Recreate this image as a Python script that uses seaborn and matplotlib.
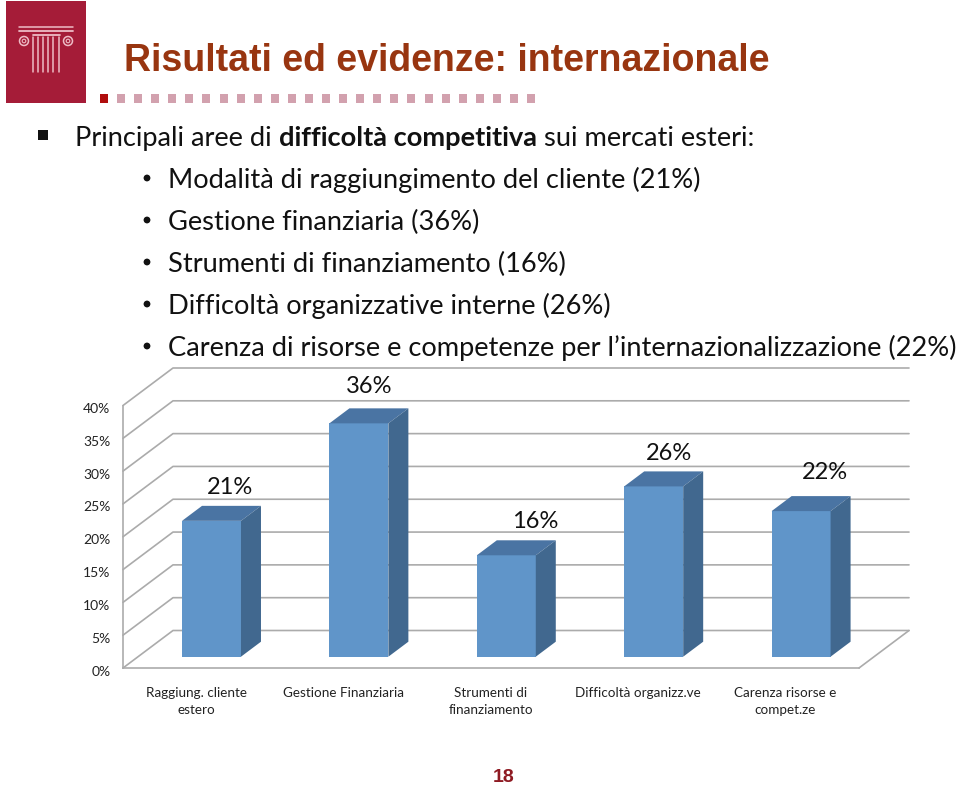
import matplotlib
matplotlib.use("Agg")
import matplotlib.pyplot as plt
from matplotlib.patches import Polygon, Rectangle, Circle
from matplotlib.transforms import ScaledTranslation
import seaborn as sns

sns.set_style("white")
plt.rcParams["font.family"] = ["Lato", "DejaVu Sans"]

categories = ["Raggiung. cliente\nestero", "Gestione Finanziaria", "Strumenti di\nfinanziamento",
              "Difficoltà organizz.ve", "Carenza risorse e\ncompet.ze"]
values = [20.9, 35.9, 15.6, 26.2, 22.4]
value_labels = ["21%", "36%", "16%", "26%", "22%"]
y_ticks = [0, 5, 10, 15, 20, 25, 30, 35, 40]

title = "Risultati ed evidenze: internazionale"
sub_lines = ["Modalità di raggiungimento del cliente (21%)",
             "Gestione finanziaria (36%)",
             "Strumenti di finanziamento (16%)",
             "Difficoltà organizzative interne (26%)",
             "Carenza di risorse e competenze per l’internazionalizzazione (22%)"]

W, H = 960, 785
RED = "#a51c38"
BROWN = "#983510"
GRID = "#ababab"


def rect(x0, y0, x1, y1):
    # pixel box (y down) to figure fractions
    return [x0 / W, 1 - y1 / H, (x1 - x0) / W, (y1 - y0) / H]


fig = plt.figure(figsize=(9.6, 7.85), dpi=100)

# page decoration, in pixels
page = fig.add_axes([0, 0, 1, 1], zorder=0)
page.set_xlim(0, W)
page.set_ylim(H, 0)
page.axis("off")

page.add_patch(Rectangle((6, 1), 80, 102, color=RED, lw=0))
col = "#eebcc6"
page.plot([19, 73], [27, 27], color=col, lw=1.1)
page.plot([19, 73], [31, 31], color=col, lw=1.3)
page.plot([33, 60], [35, 35], color=col, lw=1.3)
for x in [33, 38, 43, 48, 53, 59]:
    page.plot([x, x], [37, 72], color=col, lw=1.1)
for x in [24, 68]:
    page.add_patch(Circle((x, 41), 4.5, fill=False, ec=col, lw=1.1))
    page.add_patch(Circle((x, 41), 1.8, fill=False, ec=col, lw=0.8))

for i in range(26):
    page.add_patch(Rectangle((100 + i * 17.08, 94), 8, 8.5, lw=0,
                             color="#b00d0d" if i == 0 else "#d2a1ae"))

page.text(124, 71, title, color=BROWN, fontsize=27, fontweight="bold",
          family="Liberation Sans", va="baseline")
page.text(504, 782.5, "18", color="#8e1a22", fontsize=14, fontweight="bold",
          family="Liberation Sans", ha="center", va="baseline")

body_size = 19.6
page.add_patch(Rectangle((38, 130), 10, 10, color="#111111", lw=0))
x = 75
for piece, weight in [("Principali aree di ", "normal"), ("difficoltà competitiva", "bold"),
                      (" sui mercati esteri:", "normal")]:
    t = page.text(x, 146, piece, fontsize=body_size, fontweight=weight, color="#111111", va="baseline")
    x += t.get_window_extent(fig.canvas.get_renderer()).width

for i, line in enumerate(sub_lines):
    y = 188 + i * 42
    page.add_patch(Circle((147, y - 10), 3.4, color="#111111", lw=0))
    page.text(168, y, line, fontsize=body_size, color="#111111", va="baseline")

# chart walls: front plane of the axis
ax = fig.add_axes(rect(123, 405.5, 859, 668), zorder=1)
ax.patch.set_alpha(0)
ax.set_xlim(-0.5, 4.5)
ax.set_ylim(0, 40)
ax.set_xticks(range(5))
ax.set_xticklabels(categories, fontsize=9.7, color="#222222", linespacing=1.5)
ax.set_xticks([i - 0.5 for i in range(6)], minor=True)
ax.set_yticks(y_ticks)
ax.set_yticklabels([f"{t}%" for t in y_ticks], fontsize=10, color="#222222")
ax.tick_params(axis="x", which="major", length=0, pad=14)
ax.tick_params(axis="x", which="minor", length=3, color=GRID, width=1, direction="out")
ax.tick_params(axis="y", length=2, color=GRID, width=1, direction="out", pad=7)
shift = ScaledTranslation(0, -2.5 / 100, fig.dpi_scale_trans)
for lab in ax.get_yticklabels():
    lab.set_transform(lab.get_transform() + shift)
sns.despine(ax=ax)
for side in ["left", "bottom"]:
    ax.spines[side].set_color(GRID)
    ax.spines[side].set_linewidth(1.2)

depth_x = 50 / 147.2
depth_y = 37.5 / 6.5625
for t in y_ticks:
    ax.plot([-0.5, -0.5 + depth_x, 4.5 + depth_x], [t, t + depth_y, t + depth_y],
            color=GRID, lw=1.2, clip_on=False, zorder=1)
ax.plot([4.5, 4.5 + depth_x], [0, depth_y], color=GRID, lw=1.2, clip_on=False, zorder=1)

# bars
ax_bar = fig.add_axes(rect(137.8, 396.7, 874.8, 656.7), zorder=2)
ax_bar.patch.set_alpha(0)
sns.barplot(x=list(range(5)), y=values, width=0.4, color="#6095c9", saturation=1, linewidth=0, ax=ax_bar)
ax_bar.set_xlim(-0.5, 4.5)
ax_bar.set_ylim(0, 40)
ax_bar.axis("off")

side_x = 20 / 147.4
side_y = 15 / 6.5
label_shift = [(18, 33.5), (10, 37), (29, 33.5), (15, 33), (24, 39)]
for bar, lab, (sx, sy) in zip(ax_bar.patches, value_labels, label_shift):
    x0, x1 = bar.get_x(), bar.get_x() + bar.get_width()
    h = bar.get_height()
    ax_bar.add_patch(Polygon([(x0, h), (x1, h), (x1 + side_x, h + side_y), (x0 + side_x, h + side_y)],
                             color="#4a74a3", lw=0, clip_on=False))
    ax_bar.add_patch(Polygon([(x1, 0), (x1 + side_x, side_y), (x1 + side_x, h + side_y), (x1, h)],
                             color="#41688f", lw=0, clip_on=False))
    ax_bar.annotate(lab, ((x0 + x1) / 2, h), xytext=(sx * 0.72, sy * 0.72),
                    textcoords="offset points", ha="center", va="center",
                    fontsize=17, color="#111111", annotation_clip=False)

fig.savefig("out.png", dpi=100)
